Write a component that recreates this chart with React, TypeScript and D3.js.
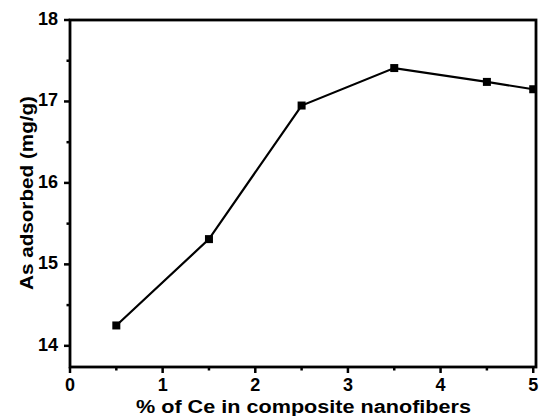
import React from "react";
import * as d3 from "d3";

const ceContent = [0.5, 1.5, 2.5, 3.5, 4.5, 5];
const adsorbed = [14.25, 15.31, 16.95, 17.41, 17.24, 17.15];
const xTicks = [0, 1, 2, 3, 4, 5];
const yTicks = [14, 15, 16, 17, 18];

export default function App() {
  const W = 539, H = 416;
  const left = 70, right = 536, top = 20, bottom = 367;
  const x = d3.scaleLinear().domain([0, 5.03]).range([left, right]);
  const y = d3.scaleLinear().domain([13.74, 18]).range([bottom, top]);
  const line = d3.line<number>().x((_, i) => x(ceContent[i])).y((d) => y(d));
  const xMinor = d3.range(0.5, 5, 1);
  const yMinor = d3.range(13.5, 18, 1).filter((v) => v > 13.74);
  const txt: React.CSSProperties = { fontFamily: "'Liberation Sans', Arial, sans-serif", fontWeight: 700, fontSize: 18 };
  return (
    <svg width={W} height={H} style={{ position: "absolute", left: 0, top: 0 }}>
      <rect x={0} y={0} width={W} height={H} fill="white" />
      <defs>
        <clipPath id="plot">
          <rect x={left} y={top} width={right - left} height={bottom - top} />
        </clipPath>
      </defs>
      <path d={line(adsorbed) || ""} fill="none" stroke="black" strokeWidth={2.2} clipPath="url(#plot)" />
      <g clipPath="url(#plot)">
        {adsorbed.map((v, i) => (
          <rect key={i} x={x(ceContent[i]) - 4} y={y(v) - 4} width={8} height={8} fill="black" />
        ))}
      </g>
      <rect x={left} y={top} width={right - left} height={bottom - top} fill="none" stroke="black" strokeWidth={2.8} />
      {xTicks.map((t) => (
        <g key={"x" + t}>
          <line x1={x(t)} x2={x(t)} y1={bottom} y2={bottom + 6} stroke="black" strokeWidth={2.5} />
          <text x={x(t)} y={bottom + 24} textAnchor="middle" style={txt}>{t}</text>
        </g>
      ))}
      {xMinor.map((t) => (
        <line key={"xm" + t} x1={x(t)} x2={x(t)} y1={bottom} y2={bottom + 3.5} stroke="black" strokeWidth={2.5} />
      ))}
      {yTicks.map((t) => (
        <g key={"y" + t}>
          <line x1={left - 6} x2={left} y1={y(t)} y2={y(t)} stroke="black" strokeWidth={2.5} />
          <text x={left - 12} y={y(t) + 5} textAnchor="end" style={txt}>{t}</text>
        </g>
      ))}
      {yMinor.map((t) => (
        <line key={"ym" + t} x1={left - 3.5} x2={left} y1={y(t)} y2={y(t)} stroke="black" strokeWidth={2.5} />
      ))}
      <text x={136} y={413} textLength={335} lengthAdjust="spacingAndGlyphs" style={txt}>% of Ce in composite nanofibers</text>
      <text transform={`translate(33, 290) rotate(-90)`} textLength={194} lengthAdjust="spacingAndGlyphs" style={txt}>As adsorbed (mg/g)</text>
    </svg>
  );
}
